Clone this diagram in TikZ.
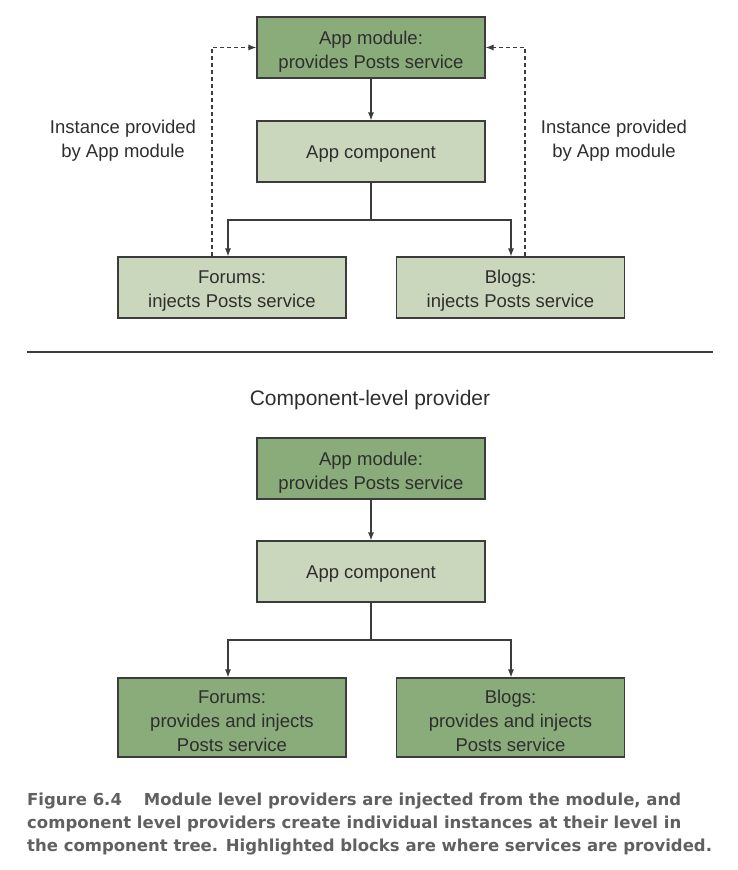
\documentclass[tikz,border=0pt]{standalone}
\usepackage{fontspec}
\setmainfont{Liberation Sans}
\newfontfamily\capfont{DejaVu Sans}
\usetikzlibrary{arrows.meta}
\definecolor{darkg}{HTML}{8AAB7A}
\definecolor{lightg}{HTML}{CBD7BD}
\definecolor{edgec}{HTML}{3C3C3C}
\definecolor{txt}{HTML}{2E2E2E}
\definecolor{capc}{HTML}{606060}
\newcommand\bxt[2][4pt]{\raisebox{-#1}[\height][\depth]{\begin{tabular}{@{}c@{}}#2\end{tabular}}}
\tikzset{
  boxbase/.style={draw=edgec, line width=1.1pt, minimum width=228pt, minimum height=61pt, text=txt, font=\fontsize{18.5}{24}\selectfont, inner sep=0pt},
  darkbox/.style={boxbase, fill=darkg},
  lightbox/.style={boxbase, fill=lightg},
  conn/.style={draw=edgec, line width=1.1pt, -{Latex[length=8pt,width=6pt]}},
  dconn/.style={conn, dash pattern=on 4pt off 3pt},
  lbl/.style={align=center, text=txt, font=\fontsize{18.5}{24}\selectfont},
  captext/.style={anchor=west, text=capc, font=\capfont\bfseries\fontsize{16.5}{24}\selectfont, inner sep=0pt},
}
\begin{document}
\begin{tikzpicture}[x=1pt,y=-1pt]
\useasboundingbox (0,0) rectangle (737,870);
% top part
\node[darkbox]  (m1) at (371,47.5)  {\bxt{App module:\\provides Posts service}};
\node[lightbox] (c1) at (371,151.5) {\bxt[2pt]{App component}};
\node[lightbox] (f1) at (232,287.5) {\bxt[3pt]{Forums:\\injects Posts service}};
\node[lightbox] (b1) at (510.5,287.5) {\bxt[3pt]{Blogs:\\injects Posts service}};
\coordinate (dl) at (212,0);
\coordinate (dr) at (525,0);
\coordinate (al) at (228,0);
\coordinate (ar) at (511,0);
\coordinate (j1) at (371,220);
\draw[conn] (m1) -- (c1);
\draw[conn] (c1.south) -- (j1) -| (f1.north -| al);
\draw[conn] (j1) -| (b1.north -| ar);
\draw[dconn] (f1.north -| dl) |- (m1.west);
\draw[dconn] (b1.north -| dr) |- (m1.east);
\node[lbl] (l1) at (123,141) {Instance provided\\by App module};
\node[lbl] (l2) at (614,141) {Instance provided\\by App module};
% separator
\coordinate (s1) at (27,352);
\coordinate (s2) at (713,352);
\draw[edgec, line width=1.1pt] (s1) -- (s2);
\node[lbl, font=\fontsize{21}{24}\selectfont] (t2) at (370,400) {Component-level provider};
% bottom part
\node[darkbox]  (m2) at (371,468.5) {\bxt{App module:\\provides Posts service}};
\node[lightbox] (c2) at (371,571.5) {\bxt[2pt]{App component}};
\node[darkbox, minimum height=79pt] (f2) at (232,717.5) {\bxt[5pt]{Forums:\\provides and injects\\Posts service}};
\node[darkbox, minimum height=79pt] (b2) at (510.5,717.5) {\bxt[5pt]{Blogs:\\provides and injects\\Posts service}};
\coordinate (j2) at (371,640);
\draw[conn] (m2) -- (c2);
\draw[conn] (c2.south) -- (j2) -| (f2.north -| al);
\draw[conn] (j2) -| (b2.north -| ar);
% caption
\node[captext] (cap1) at (27,801) {Figure 6.4\hspace{22pt}Module level providers are injected from the module, and};
\node[captext] (cap2) at (27,824) {component level providers create individual instances at their level in};
\node[captext] (cap3) at (27,847) {the component tree. Highlighted blocks are where services are provided.};
\end{tikzpicture}
\end{document}
